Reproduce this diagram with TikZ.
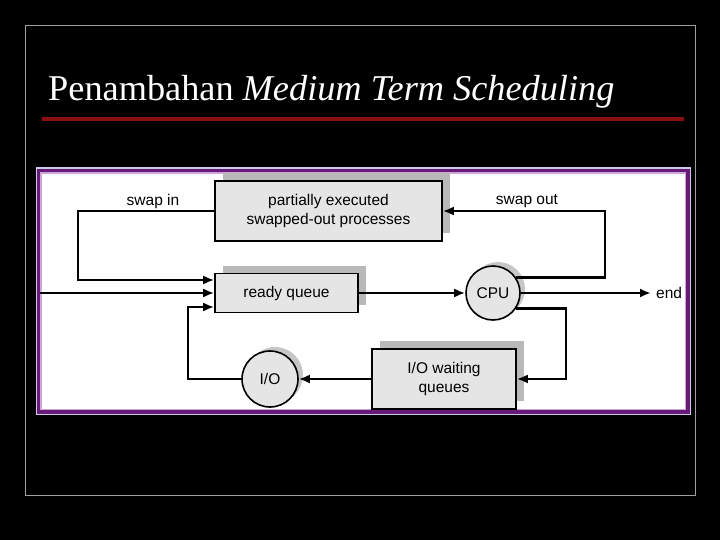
\documentclass[tikz,border=0pt]{standalone}
\usepackage{fontspec}
\setmainfont{Liberation Serif}
\setsansfont{Liberation Sans}
\usetikzlibrary{arrows.meta,shadows}
\definecolor{slidered}{RGB}{140,16,16}
\definecolor{framepurple}{RGB}{104,26,120}
\definecolor{framelilac}{RGB}{205,165,215}
\definecolor{boxgray}{RGB}{229,229,229}

\begin{document}
\begin{tikzpicture}[
  x=1pt, y=-1pt,
  block/.style={
    draw,
    line width=1.6pt,
    fill=boxgray,
    align=center,
    inner sep=0pt,
    font=\sffamily\fontsize{15.5}{19}\selectfont,
    drop shadow={shadow xshift=8pt, shadow yshift=8pt, fill=gray!55, opacity=1}
  },
  unit/.style={
    circle,
    draw,
    line width=1.6pt,
    fill=boxgray,
    inner sep=0pt,
    font=\sffamily\fontsize{15.5}{19}\selectfont,
    drop shadow={shadow xshift=5pt, shadow yshift=4pt, fill=gray!45, opacity=1}
  },
  lbl/.style={font=\sffamily\fontsize{15.5}{19}\selectfont},
  arrow/.style={-{Latex[length=11pt,width=9pt]}, line width=2.2pt}
]
% slide background and frame
\fill[black] (0,0) rectangle (720,540);
\useasboundingbox (0,0) rectangle (720,540);
\draw[gray!75, line width=0.8pt] (25,25) rectangle (695,495);
\node[anchor=base west, text=white, inner sep=0pt, font=\fontsize{36.3}{40}\selectfont] (title) at (48,101)
  {Penambahan \textit{Medium Term Scheduling}};
\draw[slidered, line width=4.5pt] (42,119) -- (684,119);

% picture panel
\fill[gray!60!blue!30] (36,167) rectangle (691,415);
\fill[framepurple] (37,169) rectangle (690,414);
\fill[framelilac] (40,172) rectangle (686,410);
\fill[white] (42,174) rectangle (685,409);

% nodes
\node[block, minimum width=227pt, minimum height=60pt] (partial) at (328.5,211)
  {partially executed\\swapped-out processes};
\node[block, minimum width=143pt, minimum height=39pt] (ready) at (286.5,293) {ready queue};
\node[unit, minimum size=54pt] (cpu) at (493,293) {CPU};
\node[unit, minimum size=56pt] (io) at (270,379) {I/O};
\node[block, minimum width=144pt, minimum height=60pt] (waitq) at (444,379)
  {I/O waiting\\queues};
\node[lbl, anchor=west, inner sep=0pt] (end) at (656,293) {end};
\node[lbl] (swapin) at (153,201) {swap in};
\node[lbl] (swapout) at (527,201) {swap out};

\coordinate (entry) at (40,293);
\coordinate (inL) at (78,0);
\coordinate (ioL) at (188,0);
\coordinate (outR) at (605,0);
\coordinate (waitR) at (566,0);

% connectors
\draw[arrow] (entry) -- (ready.west);
\draw[arrow] (partial.west) -- (partial.west -| inL) |- ([yshift=13pt]ready.west);
\draw[arrow] (io.west) -- (io.west -| ioL) |- ([yshift=-14pt]ready.west);
\draw[arrow] (ready.east) -- (cpu.west);
\draw[arrow] (cpu.east) -- ([xshift=-5pt]end.west);
\draw[arrow] (cpu.34) -- (cpu.34 -| outR) |- (partial.east);
\draw[arrow] (cpu.-34) -- (cpu.-34 -| waitR) |- (waitq.east);
\draw[arrow] (waitq.west) -- (io.east);
\end{tikzpicture}
\end{document}
